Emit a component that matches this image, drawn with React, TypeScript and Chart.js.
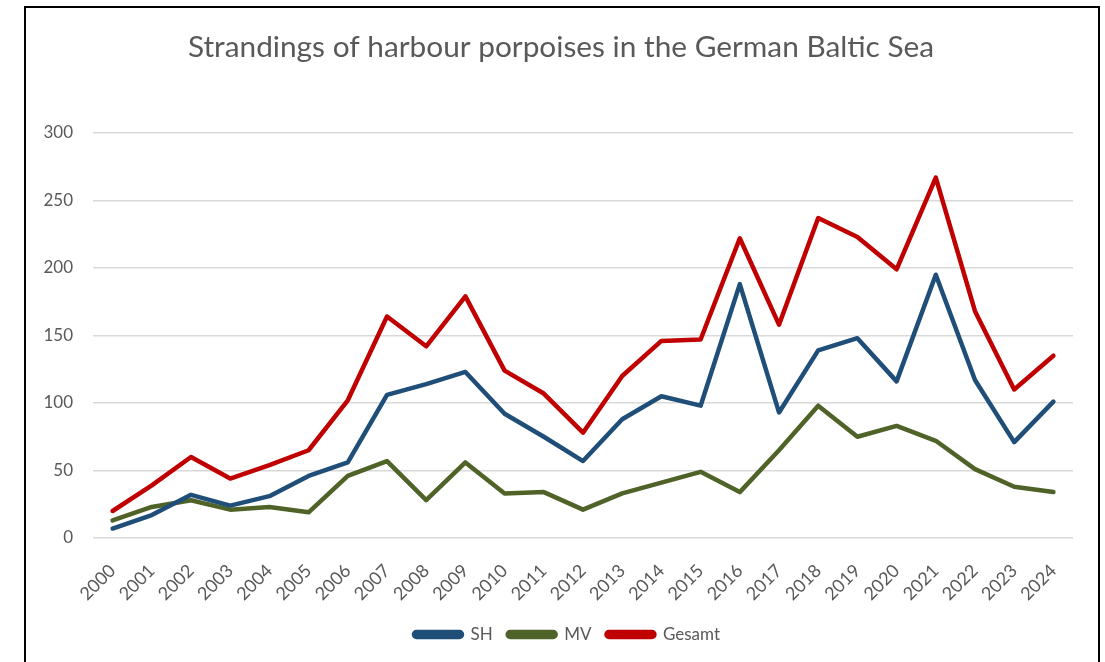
import React, { useEffect, useRef } from "react";
import { Chart, registerables } from "chart.js";

Chart.register(...registerables);

const years = ["2000","2001","2002","2003","2004","2005","2006","2007","2008","2009","2010","2011","2012","2013","2014","2015","2016","2017","2018","2019","2020","2021","2022","2023","2024"];
const shValues = [7, 17, 32, 24, 31, 46, 56, 106, 114, 123, 92, 75, 57, 88, 105, 98, 188, 93, 139, 148, 116, 195, 117, 71, 101];
const mvValues = [13, 23, 28, 21, 23, 19, 46, 57, 28, 56, 33, 34, 21, 33, 41, 49, 34, 65, 98, 75, 83, 72, 51, 38, 34];
const gesamtValues = [20, 39, 60, 44, 54, 65, 102, 164, 142, 179, 124, 107, 78, 120, 146, 147, 222, 158, 237, 223, 199, 267, 168, 110, 135];
const seriesNames = ["SH", "MV", "Gesamt"];
const titleText = "Strandings of harbour porpoises in the German Baltic Sea";

const FONT = "Lato, 'Open Sans', 'Noto Sans', sans-serif";

const blockShift = {
  id: "blockShift",
  afterLayout(chart: any) {
    if (chart.legend) {
      chart.legend.left += 17;
      chart.legend.right += 17;
    }
    if (chart.titleBlock) {
      chart.titleBlock.left += 11;
      chart.titleBlock.right += 11;
    }
  },
};

export default function App() {
  const ref = useRef<HTMLCanvasElement | null>(null);
  useEffect(() => {
    if (!ref.current) return;
    const colors = ["#1F4E79", "#4F6228", "#C00000"];
    const data = [shValues, mvValues, gesamtValues];
    const chart = new Chart(ref.current, {
      type: "line",
      data: {
        labels: years,
        datasets: seriesNames.map((n, i) => ({
          label: n,
          data: data[i],
          borderColor: colors[i],
          backgroundColor: colors[i],
          borderWidth: 4.5,
          pointRadius: 0,
          tension: 0,
          borderJoinStyle: "round" as const,
          borderCapStyle: "round" as const,
        })),
      },
      plugins: [blockShift],
      options: {
        animation: false,
        responsive: false,
        maintainAspectRatio: false,
        layout: { padding: { left: 27, right: 32, top: 0, bottom: 9 } },
        plugins: {
          title: {
            display: true,
            text: titleText,
            color: "#595959",
            font: { family: FONT, size: 29.8, weight: "normal" },
            padding: { top: 30, bottom: 67.2 },
          },
          legend: {
            position: "bottom",
            labels: {
              color: "#595959",
              font: { family: FONT, size: 17 },
              boxWidth: 48,
              boxHeight: 5,
              useBorderRadius: true,
              borderRadius: 2.5,
              padding: 15,
            },
          },
          tooltip: { enabled: false },
        },
        scales: {
          x: {
            offset: true,
            grid: { display: false, drawTicks: false },
            border: { display: false },
            ticks: {
              color: "#595959",
              font: { family: FONT, size: 18 },
              maxRotation: 45,
              minRotation: 45,
              autoSkip: false,
              padding: 22,
            },
            afterFit: (s: any) => { s.height = 73; },
          },
          y: {
            min: 0,
            max: 300,
            grid: { color: "#D9D9D9", lineWidth: 1.5, drawTicks: false },
            border: { display: false },
            ticks: {
              stepSize: 50,
              color: "#595959",
              font: { family: FONT, size: 17 },
              padding: 20,
            },
            afterFit: (s: any) => { s.width = 66; },
          },
        },
      },
    });
    return () => chart.destroy();
  }, []);
  return (
    <div style={{ position: "absolute", left: 0, top: 0, width: 1105, height: 662, overflow: "hidden", background: "#fff" }}>
      <canvas ref={ref} width={1105} height={662} style={{ position: "absolute", left: 0, top: 0, width: 1105, height: 662 }} />
      <div style={{ position: "absolute", left: 24, top: 6, width: 1076, height: 700, border: "2px solid #000", boxSizing: "border-box", pointerEvents: "none" }} />
    </div>
  );
}
